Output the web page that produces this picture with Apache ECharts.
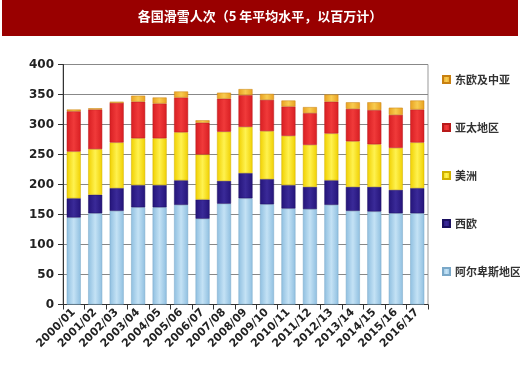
<!DOCTYPE html>
<html><head><meta charset="utf-8">
<script src="https://cdn.jsdelivr.net/npm/echarts@6/dist/echarts.min.js"></script>
<style>html,body{margin:0;padding:0;background:#fff}#c{width:520px;height:373px}</style>
</head><body><div id="c"></div>
<script>
const categories = ['2000/01','2001/02','2002/03','2003/04','2004/05','2005/06','2006/07','2007/08','2008/09','2009/10','2010/11','2011/12','2012/13','2013/14','2014/15','2015/16','2016/17'];
const alps     = [145,152,156,162,162,166,143,168,177,167,160,159,166,156,155,152,152];
const westEu   = [32,31,38,37,37,41,32,38,42,42,39,37,41,40,41,39,42];
const americas = [78,76,76,78,78,80,75,82,77,80,82,70,78,76,71,70,76];
const asiaPac  = [67,66,66,61,58,58,53,55,53,52,49,53,53,54,57,55,55];
const eastEu   = [3,2,2,10,10,10,4,10,10,10,10,10,12,11,13,12,15];
const yTicks = [0,50,100,150,200,250,300,350,400];

function grad(c1,c2){return new echarts.graphic.LinearGradient(0,0,1,0,[{offset:0,color:c1},{offset:0.5,color:c2},{offset:1,color:c1}]);}
const chart = echarts.init(document.getElementById('c'));
const mk = (name,data,c1,c2,lc)=>({name,type:'bar',stack:'s',data,barWidth:14,
  itemStyle:{color:grad(c1,c2),borderColor:lc,borderWidth:0.5}});
chart.setOption({
  animation:false,
  graphic:[{type:'rect',shape:{x:2,y:0,width:516,height:36},style:{fill:'#990000'},silent:true},
    {type:'text',left:'center',top:10,style:{text:'各国滑雪人次（5 年平均水平，以百万计）',fill:'#fff',font:'bold 13px "Noto Sans CJK SC"'}}],
  grid:{left:63,right:92,top:64.5,bottom:68.5,show:true,borderColor:'#999',borderWidth:1},
  legend:{orient:'vertical',left:437,top:67,itemWidth:7,itemHeight:7,itemGap:33,icon:'rect',
    data:['东欧及中亚','亚太地区','美洲','西欧','阿尔卑斯地区'],
    textStyle:{fontFamily:'Noto Sans CJK SC',fontSize:11,fontWeight:'bold',color:'#333',lineHeight:15}},
  xAxis:{type:'category',data:categories,
    axisLine:{lineStyle:{color:'#333'}},axisTick:{show:true,length:5,lineStyle:{color:'#333'}},
    axisLabel:{rotate:45,fontFamily:'DejaVu Sans',fontSize:11,fontWeight:'bold',color:'#222',margin:6}},
  yAxis:{type:'value',min:0,max:400,interval:50,
    axisLine:{show:true,lineStyle:{color:'#333'}},axisTick:{show:true,length:5,lineStyle:{color:'#333'}},
    splitLine:{lineStyle:{color:'#888'}},
    axisLabel:{fontFamily:'DejaVu Sans',fontSize:12,fontWeight:'bold',color:'#222',margin:9,
      formatter:v=>yTicks.includes(v)?String(v):''}},
  series:[
    mk('阿尔卑斯地区',alps,'#8fbfe0','#c4e2f5','#7aa8c8'),
    mk('西欧',westEu,'#24147a','#3a2a98','#1a0f60'),
    mk('美洲',americas,'#f0d000','#fff250','#d0b000'),
    mk('亚太地区',asiaPac,'#d81e22','#f03a3a','#b81a1a'),
    mk('东欧及中亚',eastEu,'#e8a020','#f8cc50','#c88010')
  ]
});
</script></body></html>
